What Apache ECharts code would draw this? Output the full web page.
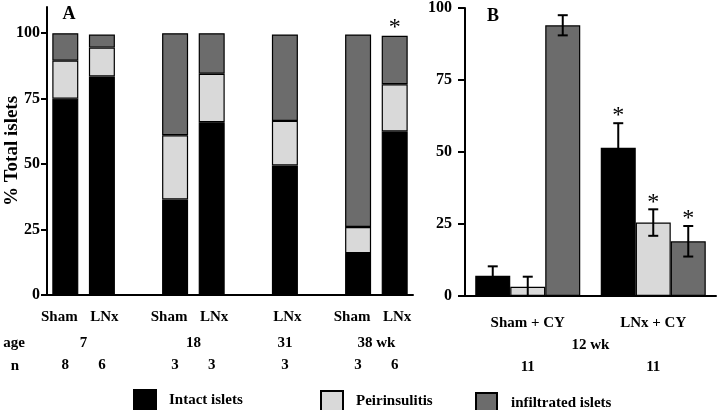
<!DOCTYPE html>
<html><head><meta charset="utf-8">
<script src="https://cdn.jsdelivr.net/npm/echarts@6/dist/echarts.min.js"></script>
<style>html,body{margin:0;padding:0;background:#fff}#c{width:720px;height:410px}</style>
</head><body><div id="c"></div>
<script>
// ---- Panel A data (gap slots are empty) ----
const catsA   = ['Sham','LNx','','Sham','LNx','','LNx','','Sham','LNx'];
const nA      = ['8','6','','3','3','','3','','3','6'];
const intactA = [75, 83.5, null, 36.5, 66, null, 49.5, null, 16, 62.5];
const periA   = [14.5, 11, null, 24.5, 18.5, null, 17, null, 10, 18];
const infilA  = [10.5, 5, null, 39, 15.5, null, 33, null, 73.5, 18.5];
const sigA    = [0,0,0,0,0,0,0,0,0,1];
const ageA    = [['7',0,1],['18',3,4],['31',6,6],['38 wk',8,9]];
const yTicksA = [0,25,50,75,100];

// ---- Panel B data ----
const catsB     = ['Sham + CY','LNx + CY'];
const nB        = ['11','11'];
const ageB      = '12 wk';
const intactB   = [7, 51.5];
const intactErr = [3.3, 8.5];
const periB     = [3.2, 25.5];
const periErr   = [3.5, 4.6];
const infilB    = [94, 19];
const infilErr  = [3.5, 5.3];
const sigB      = [[0,1],[0,1],[0,1]];

const NAMES = ['Intact islets','Peirinsulitis','infiltrated islets'];
const COLORS = ['#000000','#d9d9d9','#6c6c6c'];
const FONT = 'Liberation Serif';
const BW_B = 35;

const chart = echarts.init(document.getElementById('c'), null, {renderer:'canvas'});

const txt = {fontFamily: FONT, fontWeight: 'bold', color: '#000'};

const barStyle = (i) => ({color: COLORS[i], borderColor: '#000', borderWidth: 1.2});

const errData = [];
[[intactB,intactErr],[periB,periErr],[infilB,infilErr]].forEach(([m,e],s) => {
  m.forEach((v,g) => errData.push([g, v, e[g], s, sigB[s][g]]));
});

const lblRich = {
  s: {fontFamily: FONT, fontWeight: 'bold', fontSize: 15, color: '#000', padding: [0, 12, 0, 0]},
  l: {fontFamily: FONT, fontWeight: 'bold', fontSize: 15, color: '#000', padding: [0, 0, 0, 5]}
};

const option = {
  animation: false,
  backgroundColor: '#fff',
  grid: [
    {left: 47, top: 7, width: 366, height: 288, outerBoundsMode: 'none', containLabel: false},
    {left: 465, top: 8, width: 251, height: 288, outerBoundsMode: 'none', containLabel: false}
  ],
  xAxis: [
    {gridIndex: 0, type: 'category', data: catsA,
     axisLine: {lineStyle: {color: '#000', width: 2}}, axisTick: {show: false},
     axisLabel: Object.assign({interval: 0, fontSize: 15, margin: 15, rich: lblRich,
       formatter: v => v === 'Sham' ? '{s|Sham}' : (v === 'LNx' ? '{l|LNx}' : v)}, txt)},
    {gridIndex: 0, type: 'category', data: nA, position: 'bottom', offset: 57,
     axisLine: {show: false}, axisTick: {show: false},
     axisLabel: Object.assign({interval: 0, fontSize: 15, margin: 6}, txt)},
    {gridIndex: 1, type: 'category', data: catsB,
     axisLine: {lineStyle: {color: '#000', width: 2}}, axisTick: {show: false},
     axisLabel: Object.assign({interval: 0, fontSize: 15, margin: 20}, txt)},
    {gridIndex: 1, type: 'category', data: nB, position: 'bottom', offset: 58,
     axisLine: {show: false}, axisTick: {show: false},
     axisLabel: Object.assign({interval: 0, fontSize: 15, margin: 6}, txt)}
  ],
  yAxis: [
    {gridIndex: 0, type: 'value', min: 0, max: 110,
     name: '% Total islets', nameLocation: 'middle', nameRotate: 90, nameGap: 25,
     nameMoveOverlap: false,
     nameTextStyle: Object.assign({fontSize: 19}, txt),
     axisLine: {show: true, lineStyle: {color: '#000', width: 2}},
     axisTick: {show: true, length: 6, customValues: yTicksA, lineStyle: {color: '#000', width: 2}},
     axisLabel: Object.assign({fontSize: 16, margin: 7, customValues: yTicksA}, txt),
     splitLine: {show: false}},
    {gridIndex: 1, type: 'value', min: 0, max: 100, interval: 25,
     axisLine: {show: true, lineStyle: {color: '#000', width: 2}},
     axisTick: {show: true, length: 7, lineStyle: {color: '#000', width: 2}},
     axisLabel: Object.assign({fontSize: 16, margin: 13}, txt),
     splitLine: {show: false}}
  ],
  legend: [
    {left: 128, top: 384, icon: 'rect', itemWidth: 22, itemHeight: 20, data: [NAMES[0]], selectedMode: false,
     textStyle: Object.assign({fontSize: 15, padding: [0,0,0,8]}, txt)},
    {left: 315, top: 385, icon: 'rect', itemWidth: 22, itemHeight: 20, data: [NAMES[1]], selectedMode: false,
     textStyle: Object.assign({fontSize: 15, padding: [0,0,0,8]}, txt)},
    {left: 470, top: 387, icon: 'rect', itemWidth: 21, itemHeight: 20, data: [NAMES[2]], selectedMode: false,
     textStyle: Object.assign({fontSize: 15, padding: [0,0,0,9]}, txt)}
  ],
  series: [
    {name: NAMES[0], type: 'bar', stack: 'A', xAxisIndex: 0, yAxisIndex: 0, barWidth: 26,
     data: intactA, itemStyle: barStyle(0)},
    {name: NAMES[1], type: 'bar', stack: 'A', xAxisIndex: 0, yAxisIndex: 0, barWidth: 26,
     data: periA, itemStyle: barStyle(1)},
    {name: NAMES[2], type: 'bar', stack: 'A', xAxisIndex: 0, yAxisIndex: 0, barWidth: 26,
     data: infilA, itemStyle: barStyle(2),
     label: {show: true, position: 'top', distance: -4,
             formatter: p => sigA[p.dataIndex] ? '*' : '',
             fontFamily: FONT, fontSize: 24, color: '#000'}},
    {name: NAMES[0], type: 'bar', xAxisIndex: 2, yAxisIndex: 1, barWidth: BW_B, barGap: '0%',
     data: intactB, itemStyle: barStyle(0)},
    {name: NAMES[1], type: 'bar', xAxisIndex: 2, yAxisIndex: 1, barWidth: BW_B, barGap: '0%',
     data: periB, itemStyle: barStyle(1)},
    {name: NAMES[2], type: 'bar', xAxisIndex: 2, yAxisIndex: 1, barWidth: BW_B, barGap: '0%',
     data: infilB, itemStyle: barStyle(2)},
    {type: 'custom', xAxisIndex: 2, yAxisIndex: 1, z: 10, data: errData,
     encode: {x: 0, y: 1},
     renderItem: function (params, api) {
       const g = api.value(0), m = api.value(1), e = api.value(2), s = api.value(3), sig = api.value(4);
       const c = api.coord([g, m]);
       const x = c[0] + (s - 1) * BW_B;
       const yt = api.coord([g, m + e])[1];
       const yb = api.coord([g, Math.max(0, m - e)])[1];
       const st = {stroke: '#000', lineWidth: 2};
       const ch = [
         {type: 'line', shape: {x1: x, y1: yb, x2: x, y2: yt}, style: st},
         {type: 'line', shape: {x1: x - 5, y1: yt, x2: x + 5, y2: yt}, style: st},
         {type: 'line', shape: {x1: x - 5, y1: yb, x2: x + 5, y2: yb}, style: st}
       ];
       if (sig) ch.push({type: 'text', x: x, y: yt - 7,
         style: {text: '*', fontFamily: FONT, fontSize: 24, fill: '#000', align: 'center', verticalAlign: 'middle'}});
       return {type: 'group', children: ch};
     }}
  ]
};
chart.setOption(option);

// Row titles / age texts positioned through the axes
const gfx = [];
const t = (x, y, s, size, align) => gfx.push({type: 'text', x: x, y: y,
  style: {text: s, fontFamily: FONT, fontWeight: 'bold', fontSize: size || 15, fill: '#000',
          align: align || 'center', verticalAlign: 'middle'}});
ageA.forEach(([s, a, b]) => {
  const xa = chart.convertToPixel({xAxisIndex: 0}, a);
  const xb = chart.convertToPixel({xAxisIndex: 0}, b);
  t((xa + xb) / 2, 343, s);
});
const xb0 = chart.convertToPixel({xAxisIndex: 2}, 0);
const xb1 = chart.convertToPixel({xAxisIndex: 2}, 1);
t((xb0 + xb1) / 2, 345, ageB);
t(14, 343, 'age');
t(15, 366, 'n');
t(69, 14, 'A', 18);
t(493, 16, 'B', 18);
chart.setOption({graphic: gfx});
</script>
</body></html>
